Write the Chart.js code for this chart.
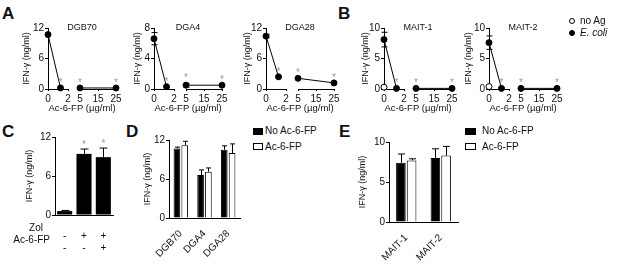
<!DOCTYPE html>
<html>
<head>
<meta charset="utf-8">
<script src="https://cdn.jsdelivr.net/npm/chart.js@4.4.1/dist/chart.umd.min.js"></script>
<style>
  body { margin: 0; background: #fff; font-family: "Liberation Sans", Arial, sans-serif; color: #111; }
  #fig { position: relative; width: 617px; height: 272px; overflow: hidden; }
  canvas { position: absolute; }
  .letter { position: absolute; font-size: 17px; font-weight: bold; line-height: 17px; }
  .t { position: absolute; font-size: 10px; line-height: 12px; white-space: nowrap; }
  .sw { position: absolute; box-sizing: border-box; border: 1px solid #000; }
</style>
</head>
<body>
<div id="fig">
  <div class="letter" style="left:2px;top:5px">A</div>
  <div class="letter" style="left:338px;top:5px">B</div>
  <div class="letter" style="left:2px;top:123px">C</div>
  <div class="letter" style="left:126px;top:123px">D</div>
  <div class="letter" style="left:339px;top:123px">E</div>

  <canvas id="dgb70" width="106" height="100" style="left:18px;top:18px"></canvas>
  <canvas id="dga4" width="106" height="100" style="left:124px;top:18px"></canvas>
  <canvas id="dga28" width="106" height="100" style="left:236px;top:18px"></canvas>
  <canvas id="mait1" width="106" height="100" style="left:354px;top:18px"></canvas>
  <canvas id="mait2" width="106" height="100" style="left:459px;top:18px"></canvas>

  <!-- legend B -->
  <div class="sw" style="left:569px;top:18px;width:6px;height:6px;border-radius:50%;background:#fff"></div>
  <div class="t" style="left:580px;top:15px">no Ag</div>
  <div class="sw" style="left:569px;top:30px;width:6px;height:6px;border-radius:50%;background:#000"></div>
  <div class="t" style="left:580px;top:27px"><i>E. coli</i></div>

  <canvas id="panelC" width="101" height="128" style="left:20px;top:127px"></canvas>
  <div class="t" style="left:0;top:222px;width:43px;text-align:right">Zol</div>
  <div class="t" style="left:0;top:234px;width:50px;text-align:right">Ac-6-FP</div>

  <canvas id="panelD" width="112" height="128" style="left:136px;top:130px"></canvas>
  <div class="sw" style="left:253px;top:128px;width:10px;height:7px;background:#000"></div>
  <div class="t" style="left:265px;top:125px">No Ac-6-FP</div>
  <div class="sw" style="left:253px;top:143px;width:10px;height:7px;background:#fff"></div>
  <div class="t" style="left:265px;top:141px">Ac-6-FP</div>

  <canvas id="panelE" width="111" height="130" style="left:355px;top:132px"></canvas>
  <div class="sw" style="left:465px;top:128px;width:11px;height:7px;background:#000"></div>
  <div class="t" style="left:482px;top:125px">No Ac-6-FP</div>
  <div class="sw" style="left:465px;top:143px;width:11px;height:7px;background:#fff"></div>
  <div class="t" style="left:482px;top:141px">Ac-6-FP</div>
</div>

<script>
// ---- data ----
const conc = [0, 1.25, 5, 25];           // Ac-6-FP (ug/ml)
const breakAt = 2;                        // x axis is broken between 2 and 5
const xLeftRange = [0, 2];
const xRightRange = [5, 25];
const xLeftTicks = [0, 2];
const xRightTicks = [5, 15, 25];

const dgb70 = [10.7, 0.2, 0.2, 0.2];
const dgb70Err = [0, 0, 0, 0];
const dga4 = [6.6, 0.3, 0.5, 0.5];
const dga4Err = [0.8, 0, 0.25, 0];
const dga28 = [10.4, 2.4, 2.1, 1.2];
const dga28Err = [0.3, 0, 0, 0];
const mait1Ecoli = [8.1, 0.1, 0.1, 0.1];
const mait1Err = [1.2, 0, 0, 0];
const mait2Ecoli = [7.6, 0.1, 0.1, 0.1];
const mait2Err = [1.1, 0, 0, 0];
const noAgConc = [0];
const mait1NoAg = [0.3];
const mait2NoAg = [0.4];
const sigA = [false, true, true, true];

const yTicks12 = [0, 6, 12];
const yTicks8 = [0, 4, 8];
const yTicks10 = [0, 5, 10];

const cZol = ['-', '+', '+'];
const cAc = ['-', '-', '+'];
const cVals = [0.6, 9.4, 8.9];
const cErr = [0.1, 0.75, 1.4];
const cSig = [false, true, true];

const tcLines = ['DGB70', 'DGA4', 'DGA28'];
const dNoAc = [10.7, 6.6, 10.5];
const dNoAcErr = [0.2, 0.8, 0.6];
const dAc = [11.2, 7.1, 10.0];
const dAcErr = [0.6, 0.6, 1.4];

const maitLines = ['MAIT-1', 'MAIT-2'];
const eNoAc = [7.4, 8.0];
const eNoAcErr = [1.1, 1.15];
const eAc = [7.7, 8.3];
const eAcErr = [0.2, 1.15];

// ---- setup ----
Chart.defaults.font.family = '"Liberation Sans", Arial, sans-serif';
Chart.defaults.font.size = 10;
Chart.defaults.color = '#111';

function valOf(d) { return (d !== null && typeof d === 'object') ? d.y : d; }

// error bars (dataset.err), both directions if dataset.errBoth
const errorBars = {
  id: 'errorBars',
  afterDatasetsDraw(chart) {
    const ctx = chart.ctx;
    chart.data.datasets.forEach((ds, i) => {
      if (!ds.err) return;
      const meta = chart.getDatasetMeta(i);
      const ys = chart.scales[meta.yAxisID];
      meta.data.forEach((el, j) => {
        const e = ds.err[j];
        if (!e) return;
        const v = valOf(ds.data[j]);
        const x = Math.round(el.x) + 0.5;
        const top = ys.getPixelForValue(v + e);
        const bot = ds.errBoth ? ys.getPixelForValue(v - e) : el.y;
        const cap = ds.cap || 3;
        ctx.save();
        ctx.strokeStyle = '#000';
        ctx.lineWidth = 1;
        ctx.beginPath();
        ctx.moveTo(x, bot); ctx.lineTo(x, top);
        ctx.moveTo(x - cap, top); ctx.lineTo(x + cap, top);
        if (ds.errBoth) { ctx.moveTo(x - cap, bot); ctx.lineTo(x + cap, bot); }
        ctx.stroke();
        ctx.restore();
      });
    });
  }
};

// grey asterisks over significant values (dataset.sig)
const stars = {
  id: 'stars',
  afterDatasetsDraw(chart) {
    const ctx = chart.ctx;
    chart.data.datasets.forEach((ds, i) => {
      if (!ds.sig) return;
      const meta = chart.getDatasetMeta(i);
      const ys = chart.scales[meta.yAxisID];
      meta.data.forEach((el, j) => {
        if (!ds.sig[j]) return;
        const v = valOf(ds.data[j]);
        const e = ds.err ? (ds.err[j] || 0) : 0;
        const top = Math.min(el.y, ys.getPixelForValue(v + e));
        ctx.save();
        ctx.fillStyle = '#9a9a9a';
        ctx.font = '10px "Liberation Sans", Arial, sans-serif';
        ctx.textAlign = 'center';
        ctx.textBaseline = 'alphabetic';
        ctx.fillText('*', el.x, top - (ds.starGap || 7) + 6);
        ctx.restore();
      });
    });
  }
};

// small panel title inside the top of the plot and a shared x title under a broken axis
const panelText = {
  id: 'panelText',
  afterDraw(chart, args, opts) {
    const { ctx, chartArea } = chart;
    const cx = (chartArea.left + chartArea.right) / 2;
    ctx.save();
    ctx.fillStyle = '#111';
    ctx.textAlign = 'center';
    ctx.textBaseline = 'middle';
    if (opts.title) {
      ctx.font = '9px "Liberation Sans", Arial, sans-serif';
      ctx.fillText(opts.title, cx, chartArea.top);
    }
    if (opts.xTitle) {
      ctx.font = '9.5px "Liberation Sans", Arial, sans-serif';
      ctx.fillText(opts.xTitle, cx, chartArea.bottom + 19);
    }
    ctx.restore();
  }
};
Chart.register(errorBars, stars, panelText);

const axisLine = { color: '#000', width: 1 };

function yAxis(ticks, width, titlePad) {
  return {
    position: 'left', min: 0, max: ticks[ticks.length - 1],
    afterBuildTicks: s => { s.ticks = ticks.map(v => ({ value: v })); },
    afterFit: s => { s.width = width; },
    border: axisLine,
    grid: { drawOnChartArea: false, tickLength: 3, color: '#000' },
    ticks: { padding: 1, autoSkip: false, font: { size: 10 } },
    title: { display: true, text: 'IFN-\u03b3 (ng/ml)', font: { size: 9 }, padding: { top: titlePad, bottom: 0 } }
  };
}

function xSeg(range, ticks, w, order) {
  return {
    type: 'linear', axis: 'x', position: 'bottom', stack: 'dose', stackWeight: w, weight: order,
    min: range[0], max: range[1],
    afterBuildTicks: s => { s.ticks = ticks.map(v => ({ value: v })); },
    afterFit: s => { s.height = 29; },
    border: axisLine,
    grid: { drawOnChartArea: false, drawTicks: true, tickLength: 2, color: '#000' },
    ticks: { padding: 2, maxRotation: 0, autoSkip: false, font: { size: 10 } }
  };
}

function pts(xs, ys, keep) {
  const out = [];
  xs.forEach((x, i) => { if (keep(x)) out.push({ x: x, y: ys[i] }); });
  return out;
}
function pick(xs, arr, keep) { return arr.filter((_, i) => keep(xs[i])); }

function dosePanel(id, title, yTicks, ecoli, err, noAg, titlePad) {
  const left = x => x <= breakAt;
  const right = x => x > breakAt;
  const dot = {
    type: 'scatter', showLine: true, borderColor: '#000', borderWidth: 1,
    pointRadius: 3, pointBackgroundColor: '#000', pointBorderColor: '#000', pointBorderWidth: 1,
    clip: false, errBoth: true, cap: 3, starGap: 8
  };
  const datasets = [];
  if (noAg) {
    datasets.push({
      type: 'scatter', label: 'no Ag', data: pts(noAgConc, noAg, left), xAxisID: 'x', yAxisID: 'y',
      showLine: false, pointRadius: 3, pointBackgroundColor: '#fff', pointBorderColor: '#000',
      pointBorderWidth: 1, clip: false
    });
  }
  datasets.push(Object.assign({ label: 'E. coli', data: pts(conc, ecoli, left), err: pick(conc, err, left),
    sig: pick(conc, sigA, left), xAxisID: 'x', yAxisID: 'y' }, dot));
  datasets.push(Object.assign({ label: 'E. coli', data: pts(conc, ecoli, right), err: pick(conc, err, right),
    sig: pick(conc, sigA, right), xAxisID: 'x2', yAxisID: 'y' }, dot));

  new Chart(document.getElementById(id), {
    type: 'scatter',
    data: { datasets: datasets },
    options: {
      responsive: false, animation: false, devicePixelRatio: 1,
      layout: { padding: { top: 10, right: 8, bottom: 0, left: 0 } },
      plugins: {
        legend: { display: false }, tooltip: { enabled: false },
        panelText: { title: title, xTitle: 'Ac-6-FP (\u00b5g/ml)' }
      },
      scales: {
        x: xSeg(xLeftRange, xLeftTicks, 20, 1),
        gap: {
          type: 'linear', axis: 'x', position: 'bottom', stack: 'dose', stackWeight: 12, weight: 2,
          min: 0, max: 1, afterFit: s => { s.height = 29; },
          grid: { display: false }, border: { display: false }, ticks: { display: false }
        },
        x2: xSeg(xRightRange, xRightTicks, 36, 3),
        y: yAxis(yTicks, 30, titlePad)
      }
    }
  });
}

dosePanel('dgb70', 'DGB70', yTicks12, dgb70, dgb70Err, null, 3.6);
dosePanel('dga4', 'DGA4', yTicks8, dga4, dga4Err, null, 8.6);
dosePanel('dga28', 'DGA28', yTicks12, dga28, dga28Err, null, 6.6);
dosePanel('mait1', 'MAIT-1', yTicks10, mait1Ecoli, mait1Err, mait1NoAg, 6.6);
dosePanel('mait2', 'MAIT-2', yTicks10, mait2Ecoli, mait2Err, mait2NoAg, 4.6);

function barOpts(yTicks, yw, titlePad, rotated) {
  return {
    responsive: false, animation: false, devicePixelRatio: 1,
    layout: { padding: { top: 10, right: 8, bottom: 0, left: 0 } },
    plugins: { legend: { display: false }, tooltip: { enabled: false } },
    scales: {
      x: {
        type: 'category', position: 'bottom',
        afterFit: s => { s.height = 40; },
        border: axisLine,
        grid: { display: false },
        ticks: rotated
          ? { padding: 2, minRotation: 45, maxRotation: 45, autoSkip: false, font: { size: 10 } }
          : { padding: 7, maxRotation: 0, autoSkip: false, font: { size: 10 } }
      },
      y: yAxis(yTicks, yw, titlePad)
    }
  };
}

// C
new Chart(document.getElementById('panelC'), {
  type: 'bar',
  data: {
    labels: cZol.map((z, i) => [z, cAc[i]]),
    datasets: [{
      data: cVals, backgroundColor: '#000', borderColor: '#000', borderWidth: 0,
      barPercentage: 0.78, categoryPercentage: 1, err: cErr, sig: cSig, cap: 4, starGap: 7
    }]
  },
  options: barOpts(yTicks12, 35, 4.6, false)
});

// D
new Chart(document.getElementById('panelD'), {
  type: 'bar',
  data: {
    labels: tcLines,
    datasets: [
      { label: 'No Ac-6-FP', data: dNoAc, backgroundColor: '#000', borderColor: '#000', borderWidth: 1,
        barPercentage: 0.85, categoryPercentage: 0.66, err: dNoAcErr, cap: 2.5 },
      { label: 'Ac-6-FP', data: dAc, backgroundColor: '#fff', borderColor: '#000', borderWidth: 1,
        barPercentage: 0.85, categoryPercentage: 0.66, err: dAcErr, cap: 2.5 }
    ]
  },
  options: barOpts(yTicks12, 33, 6.6, true)
});

// E
new Chart(document.getElementById('panelE'), {
  type: 'bar',
  data: {
    labels: maitLines,
    datasets: [
      { label: 'No Ac-6-FP', data: eNoAc, backgroundColor: '#000', borderColor: '#000', borderWidth: 1,
        barPercentage: 0.9, categoryPercentage: 0.62, err: eNoAcErr, cap: 3.5 },
      { label: 'Ac-6-FP', data: eAc, backgroundColor: '#fff', borderColor: '#000', borderWidth: 1,
        barPercentage: 0.9, categoryPercentage: 0.62, err: eAcErr, cap: 3.5 }
    ]
  },
  options: barOpts(yTicks10, 34, 2.6, true)
});
</script>
</body>
</html>
